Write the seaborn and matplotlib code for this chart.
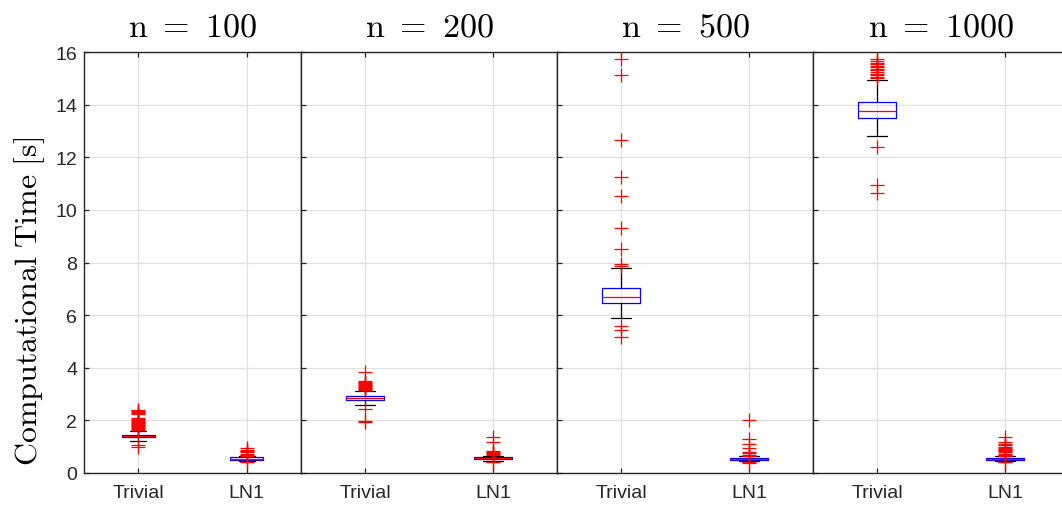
import matplotlib
matplotlib.use("Agg")
import matplotlib.pyplot as plt
import seaborn as sns

# Problem sizes (one panel each) and the two methods compared in every panel
sizes = [100, 200, 500, 1000]
methods = ["Trivial", "LN1"]

# Box summaries per size: [lower whisker, Q1, median, Q3, upper whisker] in seconds
trivial_box = [
    [1.22, 1.37, 1.41, 1.46, 1.60],
    [2.58, 2.79, 2.85, 2.91, 3.12],
    [5.89, 6.46, 6.69, 7.02, 7.79],
    [12.82, 13.50, 13.77, 14.10, 14.94],
]
ln1_box = [
    [0.46, 0.51, 0.55, 0.59, 0.64],
    [0.45, 0.53, 0.56, 0.60, 0.65],
    [0.44, 0.48, 0.52, 0.56, 0.63],
    [0.45, 0.49, 0.53, 0.57, 0.64],
]

# Outlying runs per size
trivial_fliers = [
    [0.99, 1.05, 1.63, 1.66, 1.70, 1.74, 1.78, 1.82, 1.86, 1.90, 1.94, 1.98,
     2.02, 2.06, 2.10, 2.25, 2.29, 2.33, 2.37, 2.41],
    [1.95, 1.98, 2.43, 3.14, 3.18, 3.22, 3.26, 3.30, 3.34, 3.38, 3.42, 3.46,
     3.50, 3.85],
    [5.17, 5.43, 5.59, 7.85, 7.94, 8.51, 9.31, 10.53, 11.25, 12.66, 15.12,
     15.73],
    [10.64, 10.95, 12.39, 15.00, 15.06, 15.12, 15.18, 15.24, 15.30, 15.36,
     15.42, 15.48, 15.54, 15.60, 15.66, 15.75],
]
ln1_fliers = [
    [0.40, 0.42, 0.66, 0.70, 0.74, 0.78, 0.82, 0.86, 0.95],
    [0.40, 0.42, 0.68, 0.72, 0.76, 0.80, 0.84, 1.18, 1.37],
    [0.38, 0.40, 0.66, 0.70, 0.75, 0.80, 0.95, 1.10, 1.29, 2.00],
    [0.40, 0.42, 0.66, 0.70, 0.74, 0.78, 0.82, 0.86, 0.90, 0.95, 1.00,
     1.05, 1.12, 1.18, 1.37],
]

y_ticks = list(range(0, 17, 2))

sns.set_theme(style="white")
plt.rcParams["font.family"] = ["Liberation Sans", "DejaVu Sans"]
plt.rcParams["mathtext.fontset"] = "cm"

frame = (0.15, 0.15, 0.15)
W, H = 1062, 510
fig = plt.figure(figsize=(W / 100, H / 100), dpi=100)

lefts = [84, 301, 557, 813]
widths = [217, 256, 256, 256]
bottom_px, top_px = 474, 53

for i, n in enumerate(sizes):
    ax = fig.add_axes([lefts[i] / W, (H - bottom_px) / H,
                       widths[i] / W, (bottom_px - top_px) / H])
    stats = []
    for box in (trivial_box[i], ln1_box[i]):
        lo, q1, med, q3, hi = box
        stats.append(dict(whislo=lo, q1=q1, med=med, q3=q3, whishi=hi,
                          fliers=[]))
    ax.bxp(stats, positions=[1, 2], widths=0.3, capwidths=0.15,
           showfliers=False, patch_artist=False,
           boxprops=dict(color="blue", linewidth=0.9),
           medianprops=dict(color="red", linewidth=0.9),
           whiskerprops=dict(color="black", linewidth=0.9),
           capprops=dict(color="black", linewidth=0.9))

    xs, ys = [], []
    for pos, fl in ((1, trivial_fliers[i]), (2, ln1_fliers[i])):
        xs += [pos] * len(fl)
        ys += fl
    sns.scatterplot(x=xs, y=ys, marker="+", color="red", s=100,
                    linewidth=0.9, ax=ax, zorder=4, legend=False)

    ax.set_xlim(0.5, 2.5)
    ax.set_ylim(0, 16)
    ax.set_xticks([1, 2])
    ax.set_xticklabels(methods)
    ax.set_yticks(y_ticks)
    if i == 0:
        ax.set_yticklabels([str(t) for t in y_ticks])
        ax.set_ylabel(r"$\mathrm{Computational\ Time\ [s]}$", fontsize=23,
                      color="black", labelpad=6)
        ax.yaxis.set_label_coords(-0.17, 0.41)
    else:
        ax.set_yticklabels([])
    ax.set_title(r"$\mathrm{n}\ =\ %d$" % n, fontsize=24.5, pad=12,
                 color="black")

    ax.grid(True, color=(0.88, 0.88, 0.88), linewidth=0.9)
    ax.set_axisbelow(True)
    ax.tick_params(direction="in", length=3.5, width=0.9, color=frame,
                   labelcolor=frame, labelsize=14, top=True, right=False,
                   left=True, bottom=True, pad=5)
    ax.tick_params(axis="x", pad=8)
    for sp in ax.spines.values():
        sp.set_color(frame)
        sp.set_linewidth(1.0)

fig.savefig("out.png", dpi=100)
